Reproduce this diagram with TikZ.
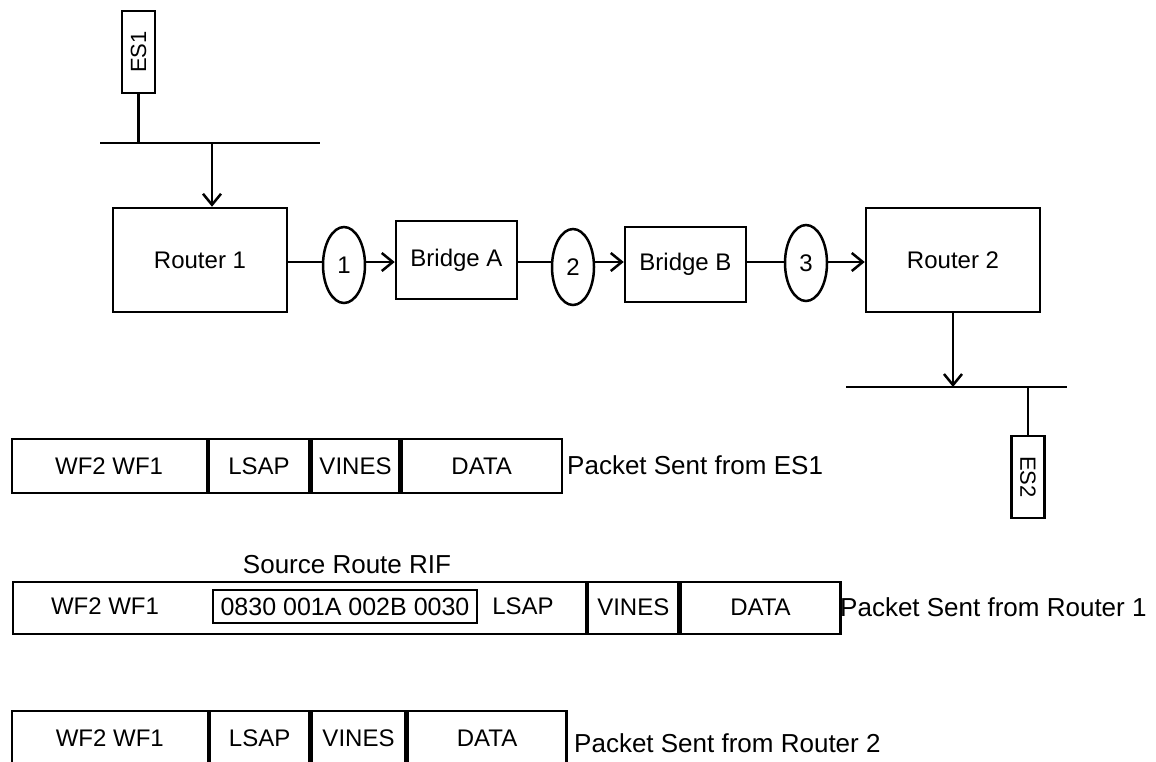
\documentclass[tikz,border=0pt]{standalone}
\usepackage{fontspec}
\setmainfont{Liberation Sans}
\usetikzlibrary{arrows.meta,shapes.geometric}
\begin{document}
\begin{tikzpicture}[x=1pt,y=-1pt,
  txt/.style={inner sep=0pt, font=\fontsize{24}{28}\selectfont},
  box/.style={draw, line width=2.5pt, rectangle, inner sep=0pt, font=\fontsize{24}{28}\selectfont},
  oval/.style={draw, line width=2.5pt, ellipse, inner sep=0pt, minimum width=42pt, minimum height=76pt, font=\fontsize{24}{28}\selectfont},
  esbox/.style={draw, line width=2.5pt, rectangle, inner sep=0pt, minimum width=33pt, minimum height=82pt},
  estext/.style={inner sep=0pt, font=\fontsize{22}{26}\selectfont},
  cell/.style={draw, line width=2.2pt, rectangle, inner sep=0pt, minimum height=54pt, anchor=north west, font=\fontsize{24}{28}\selectfont},
  lbl/.style={inner sep=0pt, anchor=west, font=\fontsize{26}{30}\selectfont},
  wire/.style={line width=2.5pt},
  arr/.style={line width=2.5pt, -{Straight Barb[length=11pt,width=18pt,line width=2.5pt]}},
]
\useasboundingbox (0,0) rectangle (1156,761);
\clip (0,0) rectangle (1156,761);

% ES1 and its bus
\node[esbox] (es1) at (138.5,52) {};
\node[estext, rotate=90] (es1t) at (es1.center) {ES1};
\coordinate (b1L) at (100,143);
\coordinate (b1R) at (320,143);
\coordinate (b1a) at (212,143);
\draw[wire] (b1L) -- (b1R);
\draw[wire] (es1.south) -- (es1.south |- b1L);

% chain
\node[box, minimum width=174pt, minimum height=104pt] (r1) at (200,260) {Router 1};
\node[oval] (e1) at (344,265) {1};
\node[box, minimum width=121pt, minimum height=78pt] (ba) at (456.5,260) {Bridge A};
\node[oval] (e2) at (573,267) {2};
\node[box, minimum width=121pt, minimum height=75pt] (bb) at (685.5,264.5) {Bridge B};
\node[oval] (e3) at (806,263) {3};
\node[box, minimum width=174pt, minimum height=104pt] (r2) at (953,260) {Router 2};

\draw[arr] (b1a) -- (b1a |- r1.north);

\coordinate (cy) at (0,262);
\draw[wire] (r1.east |- cy) -- (e1.west |- cy);
\draw[arr] (e1.east |- cy) -- (ba.west |- cy);
\draw[wire] (ba.east |- cy) -- (e2.west |- cy);
\draw[arr] (e2.east |- cy) -- (bb.west |- cy);
\draw[wire] (bb.east |- cy) -- (e3.west |- cy);
\draw[arr] (e3.east |- cy) -- (r2.west |- cy);

% Router 2 bus and ES2
\coordinate (b2L) at (846,387);
\coordinate (b2R) at (1067,387);
\draw[wire] (b2L) -- (b2R);
\draw[arr] (r2.south) -- (r2.south |- b2L);
\node[esbox] (es2) at (1028,477) {};
\node[estext, rotate=-90] (es2t) at (es2.center) {ES2};
\draw[wire] (es2.north |- b2L) -- (es2.north);

% Packet sent from ES1
\node[cell, minimum width=195pt] (p1a) at (10.5,438) {WF2 WF1};
\node[cell, minimum width=100.5pt] (p1b) at (p1a.north east) {LSAP};
\node[cell, minimum width=88pt] (p1c) at (p1b.north east) {VINES};
\node[cell, minimum width=160pt] (p1d) at (p1c.north east) {DATA};
\node[lbl] (p1l) at (567,465) {Packet Sent from ES1};

% Packet sent from Router 1
\node[txt, font=\fontsize{26}{30}\selectfont] (rift) at (347,565) {Source Route RIF};
\node[cell, minimum width=573.3pt, minimum height=52pt] (p2a) at (11.7,580.5) {};
\node[cell, minimum width=90pt, minimum height=52pt] (p2b) at (p2a.north east) {VINES};
\node[cell, minimum width=160pt, minimum height=52pt] (p2c) at (p2b.north east) {DATA};
\node[txt] (p2w) at (105,606.5) {WF2 WF1};
\node[draw, line width=2.2pt, rectangle, inner sep=0pt, minimum width=264pt, minimum height=33pt, font=\fontsize{25}{29}\selectfont] (rif) at (345,606.5) {0830 001A 002B 0030};
\node[txt] (p2s) at (523,606.5) {LSAP};
\node[lbl] (p2l) at (840,607) {Packet Sent from Router 1};

% Packet sent from Router 2
\node[cell, minimum width=196pt] (p3a) at (10.7,710) {WF2 WF1};
\node[cell, minimum width=99.3pt] (p3b) at (p3a.north east) {LSAP};
\node[cell, minimum width=94pt] (p3c) at (p3b.north east) {VINES};
\node[cell, minimum width=158.7pt] (p3d) at (p3c.north east) {DATA};
\node[lbl] (p3l) at (574,743) {Packet Sent from Router 2};
\end{tikzpicture}
\end{document}
